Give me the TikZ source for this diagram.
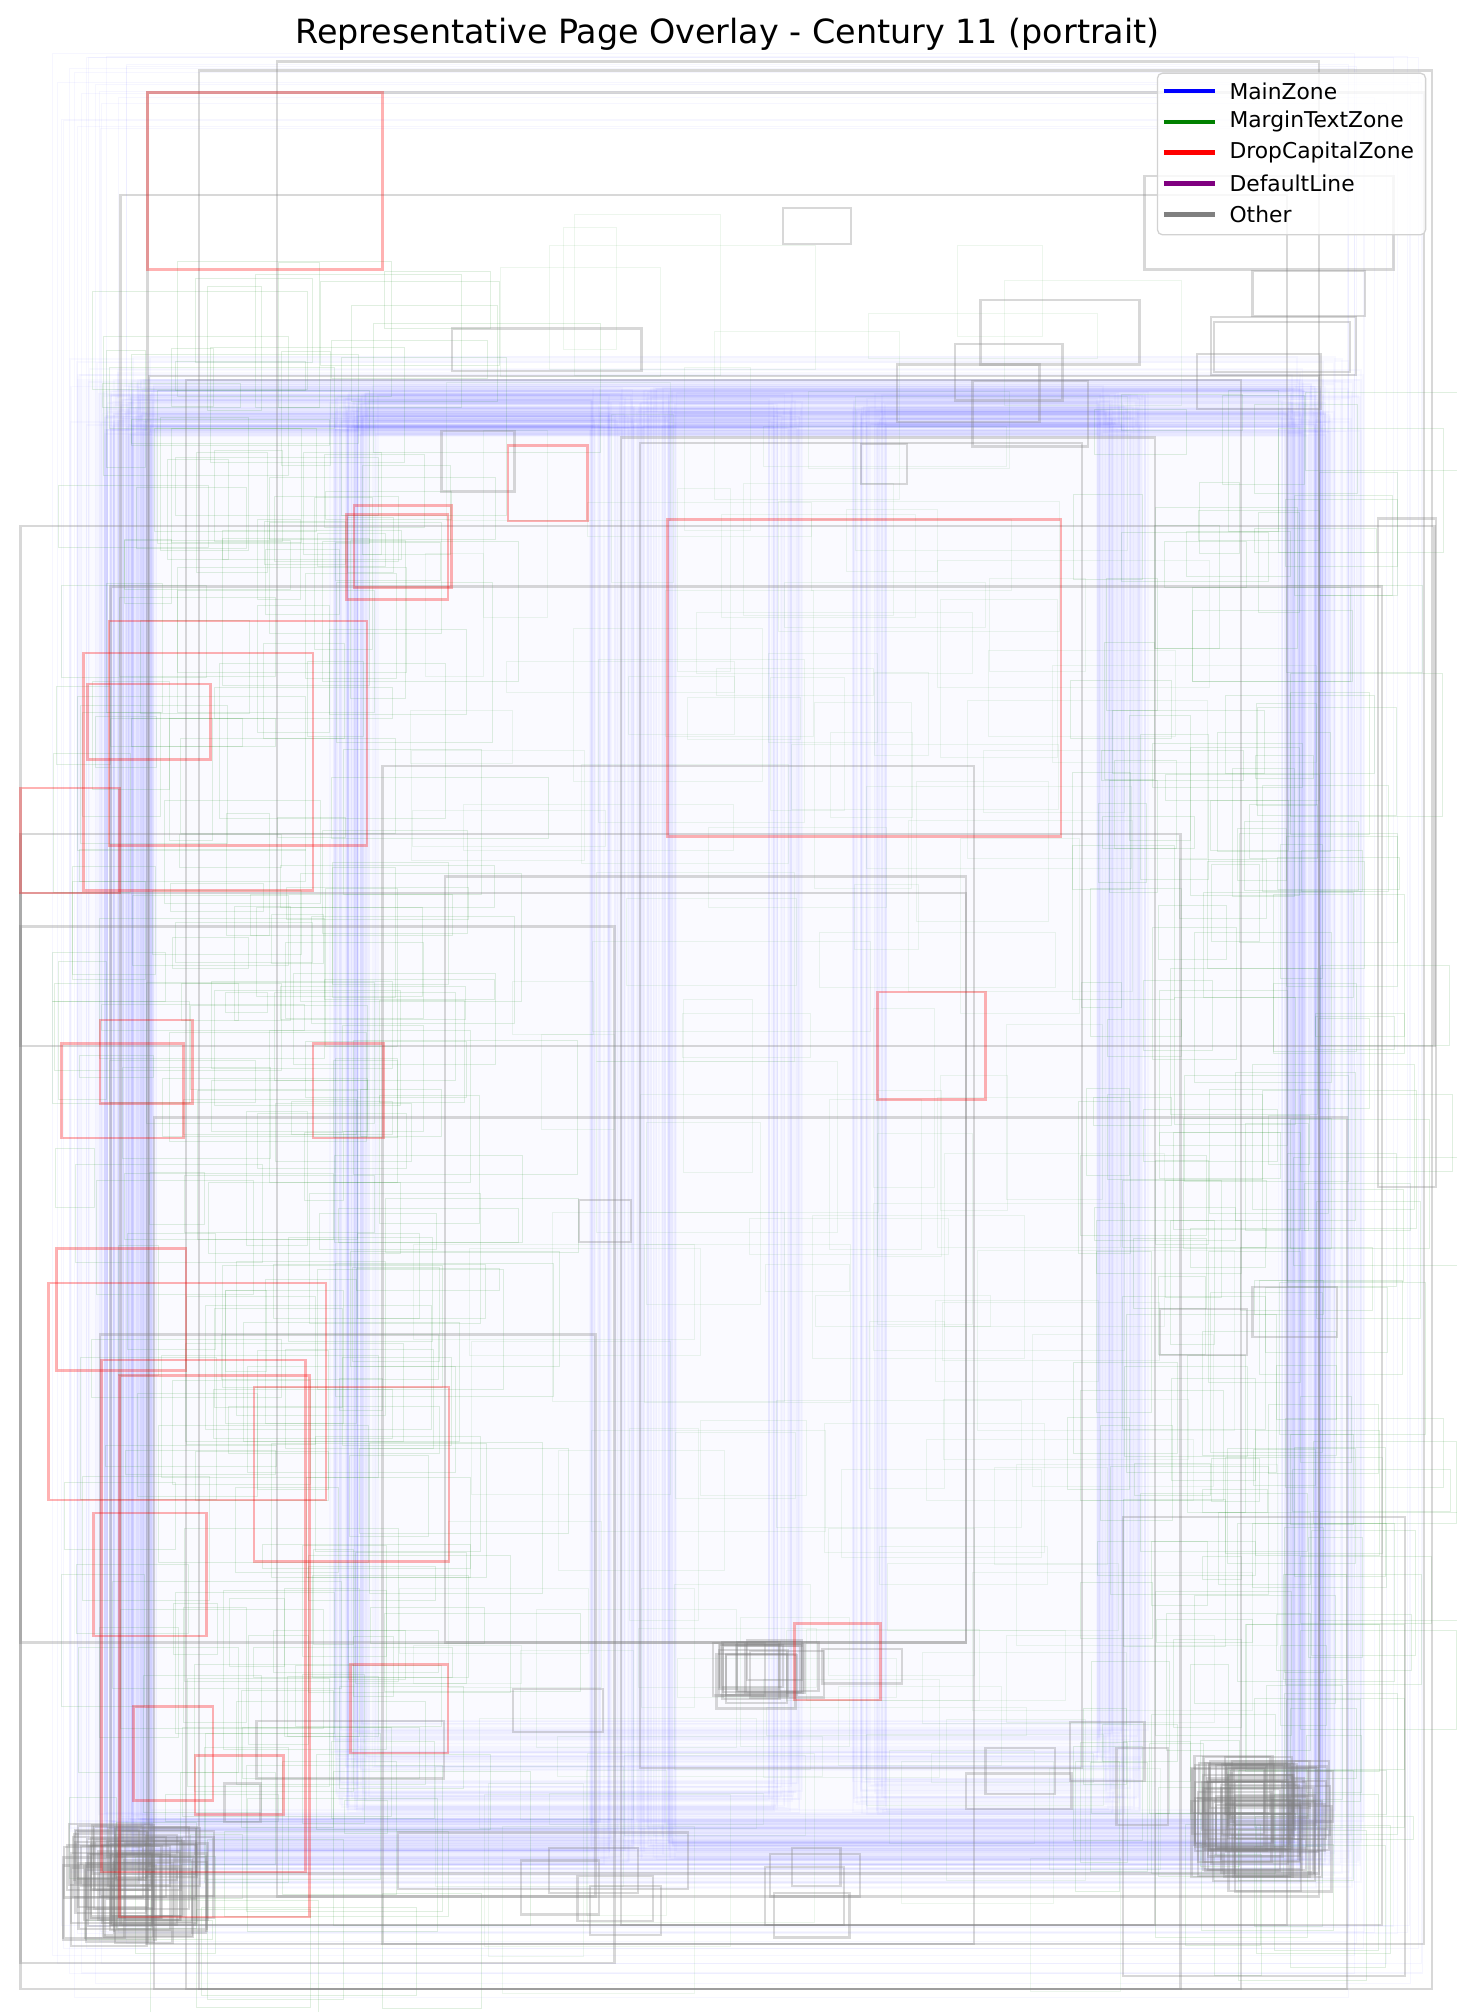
\documentclass[tikz,border=0pt]{standalone}
\usepackage{fontspec}
\setmainfont{DejaVu Sans}
\definecolor{mplgreen}{HTML}{008000}
\definecolor{mplpurple}{HTML}{800080}
\definecolor{mplgray}{HTML}{808080}
\newcommand{\bluefam}[6]{%
  \foreach \k in {1,...,#6}{%
    \pgfmathsetmacro{\ja}{#1+#5*rand}%
    \pgfmathsetmacro{\jb}{#2+#5*rand}%
    \pgfmathsetmacro{\jc}{#3+#5*rand}%
    \pgfmathsetmacro{\jd}{#4+#5*rand}%
    \draw[mainz] (\ja,\jb) rectangle (\jc,\jd);}}
\begin{document}
\begin{tikzpicture}[x=1pt,y=-1pt,
  mainz/.style={draw=blue,line width=1.4pt,draw opacity=0.025},
  margz/.style={draw=mplgreen,line width=0.6pt,draw opacity=0.12},
  oth/.style={draw=mplgray,line width=1.8pt,draw opacity=0.3},
  dcap/.style={draw=red,line width=2pt,draw opacity=0.3},
  legtext/.style={anchor=west,font=\fontsize{17}{20}\selectfont,inner sep=0pt},
  legline/.style={line width=3.5pt}]
\useasboundingbox (0,0) rectangle (1135,1568);
\fill[white] (0,0) rectangle (1135,1568);
\pgfmathsetseed{20240}
% faint tint
\fill[blue,opacity=0.018] (60,295) rectangle (1060,1450);
% ---- MainZone bands
\bluefam{85}{310}{1035}{1440}{32}{40}
\bluefam{100}{318}{1018}{1435}{22}{70}
\bluefam{100}{318}{478}{1435}{18}{45}
\bluefam{512}{318}{1018}{1435}{16}{45}
\bluefam{275}{320}{875}{1360}{20}{40}
\bluefam{275}{320}{612}{1400}{14}{35}
\bluefam{677}{320}{875}{1400}{14}{35}
\begin{scope}[mainz/.append style={line width=0.8pt,draw opacity=0.035}]
\bluefam{70}{70}{1080}{1530}{30}{18}
\end{scope}
% ---- MarginTextZone
\foreach \k in {1,...,260}{%
  \pgfmathsetmacro{\gx}{40+rnd*260}%
  \pgfmathsetmacro{\gy}{200+rnd*1300}%
  \pgfmathsetmacro{\gw}{30+rnd*150}%
  \pgfmathsetmacro{\gh}{15+rnd*110}%
  \draw[margz] (\gx,\gy) rectangle ++(\gw,\gh);}
\foreach \k in {1,...,200}{%
  \pgfmathsetmacro{\gx}{830+rnd*200}%
  \pgfmathsetmacro{\gy}{300+rnd*1150}%
  \pgfmathsetmacro{\gw}{30+rnd*100}%
  \pgfmathsetmacro{\gh}{15+rnd*110}%
  \draw[margz] (\gx,\gy) rectangle ++(\gw,\gh);}
\foreach \k in {1,...,140}{%
  \pgfmathsetmacro{\gx}{300+rnd*520}%
  \pgfmathsetmacro{\gy}{150+rnd*1300}%
  \pgfmathsetmacro{\gw}{40+rnd*180}%
  \pgfmathsetmacro{\gh}{20+rnd*130}%
  \draw[margz,draw opacity=0.07] (\gx,\gy) rectangle ++(\gw,\gh);}
% ---- Other (large)
\foreach \a/\b/\c/\d in {
  216/48/1028/1478, 155/55/1116/1550, 115/72/1110/1515, 94/152/1003/1500,
  116/293/1028/1460, 145/296/967/1550, 484/341/900/1500, 499/345/843/1378,
  16/410/1118/815, 1074/404/1119/925, 86/457/1077/1500, 298/597/759/1515,
  16/650/920/1550, 347/683/753/1280, 16/722/479/1530, 120/871/1050/1550,
  78/1040/464/1478, 875/1182/1095/1540, 16/696/753/1280}
  \draw[oth] (\a,\b) rectangle (\c,\d);
% ---- Other (small)
\foreach \a/\b/\c/\d in {
  610/162/663/190, 892/137/1086/210, 976/211/1064/246, 944/247/1057/292,
  946/251/1052/290, 764/234/888/284, 352/256/500/289, 744/268/828/312,
  699/284/810/329, 758/297/848/348, 933/276/1029/319, 344/336/401/383,
  671/346/707/377, 451/935/492/968, 976/1003/1042/1042, 904/1020/972/1056,
  400/1316/470/1350, 200/1341/346/1386, 175/1390/203/1420, 768/1362/822/1398,
  753/1382/835/1410, 834/1342/892/1388, 870/1362/910/1422, 310/1428/536/1472,
  406/1450/467/1492, 428/1440/497/1475, 450/1462/509/1497, 460/1470/515/1508,
  600/1445/670/1478, 617/1440/655/1470, 596/1455/658/1500, 603/1475/662/1510,
  641/1285/703/1312}
  \draw[oth] (\a,\b) rectangle (\c,\d);
% clusters
\foreach \k in {1,...,50}{%
  \pgfmathsetmacro{\gx}{48+rnd*50}%
  \pgfmathsetmacro{\gy}{1418+rnd*40}%
  \pgfmathsetmacro{\gw}{45+rnd*30}%
  \pgfmathsetmacro{\gh}{30+rnd*35}%
  \draw[oth] (\gx,\gy) rectangle ++(\gw,\gh);}
\foreach \k in {1,...,50}{%
  \pgfmathsetmacro{\gx}{928+rnd*35}%
  \pgfmathsetmacro{\gy}{1368+rnd*40}%
  \pgfmathsetmacro{\gw}{50+rnd*30}%
  \pgfmathsetmacro{\gh}{35+rnd*35}%
  \draw[oth] (\gx,\gy) rectangle ++(\gw,\gh);}
\foreach \k in {1,...,14}{%
  \pgfmathsetmacro{\gx}{555+rnd*30}%
  \pgfmathsetmacro{\gy}{1278+rnd*12}%
  \pgfmathsetmacro{\gw}{40+rnd*25}%
  \pgfmathsetmacro{\gh}{30+rnd*15}%
  \draw[oth] (\gx,\gy) rectangle ++(\gw,\gh);}
% ---- DropCapitalZone
\foreach \a/\b/\c/\d in {
  115/72/298/210, 396/347/458/406, 276/394/352/458, 270/401/349/467,
  520/405/827/652, 85/484/286/659, 65/509/244/694, 68/533/164/592,
  16/614/93/696, 684/773/768/857, 78/795/150/860, 48/813/143/887,
  244/813/299/887, 44/973/145/1068, 38/1000/254/1169, 79/1060/238/1459,
  93/1072/241/1494, 198/1081/350/1217, 73/1179/161/1275, 273/1297/349/1366,
  104/1330/166/1403, 152/1368/221/1414, 619/1265/686/1325}
  \draw[dcap] (\a,\b) rectangle (\c,\d);
% ---- Legend
\draw[rounded corners=4pt,fill=white,fill opacity=0.8,draw=gray!35,line width=1pt]
  (902,57) rectangle (1111,183);
\draw[legline,blue] (907,71) -- (947,71);
\draw[legline,mplgreen] (907,95) -- (947,95);
\draw[legline,red] (907,119) -- (947,119);
\draw[legline,mplpurple] (907,143) -- (947,143);
\draw[legline,mplgray] (907,167) -- (947,167);
\node[legtext] (l1) at (958,71) {MainZone};
\node[legtext] (l2) at (958,95) {MarginTextZone};
\node[legtext] (l3) at (958,119) {DropCapitalZone};
\node[legtext] (l4) at (958,143) {DefaultLine};
\node[legtext] (l5) at (958,167) {Other};
% ---- Title
\node[font=\fontsize{26}{31}\selectfont,inner sep=0pt] (title) at (567,27)
  {Representative Page Overlay - Century 11 (portrait)};
\end{tikzpicture}
\end{document}
